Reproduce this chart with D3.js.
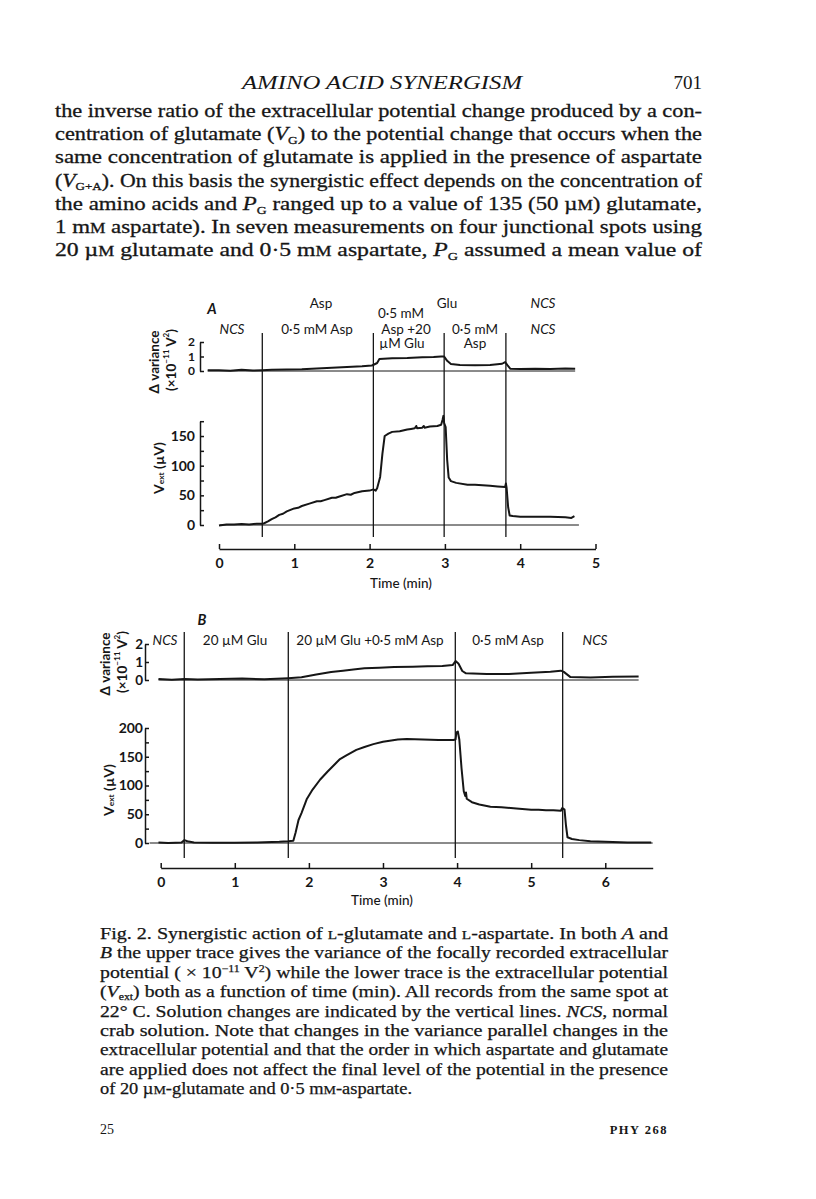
<!DOCTYPE html>
<html lang="en">
<head>
<meta charset="UTF-8">
<title>Amino acid synergism - Fig. 2</title>
<script src="https://cdn.jsdelivr.net/npm/d3@7/dist/d3.min.js"></script>
<style>
  body { margin: 0; background: #fff; }
  svg { display: block; }
</style>
</head>
<body>
<script>
// ---- panel A (time in min, Vext in uV, variance in 1e-11 V^2) ----
var changesA = [0.575, 2.05, 2.99, 3.81];
var vextA = [[0,-1],[0.05,0],[0.1,1],[0.2,1],[0.3,1.5],[0.4,1],[0.5,2],[0.575,2],[0.6,3],[0.65,6],
  [0.7,10],[0.75,13],[0.8,17],[0.85,19],[0.9,23],[1.0,28],[1.05,29],[1.1,32],[1.2,36],[1.3,40],
  [1.35,40],[1.4,42],[1.5,46],[1.55,46],[1.6,48],[1.7,52],[1.75,51],[1.8,54],[1.9,57],[2.0,58],
  [2.05,60],[2.08,58],[2.1,62],[2.14,81],[2.17,120],[2.2,150],[2.25,154],[2.3,157],[2.4,158],
  [2.5,161],[2.55,162],[2.6,163],[2.62,167],[2.63,163],[2.7,164],[2.72,167],[2.73,164],[2.8,166],
  [2.9,167],[2.95,169],[2.97,178],[2.98,184],[2.99,172],[3.01,165],[3.03,110],[3.05,80],[3.08,74],
  [3.15,71],[3.3,68],[3.4,68],[3.5,67],[3.6,66],[3.7,65],[3.8,64],[3.81,70],[3.82,62],[3.84,30],
  [3.86,16],[3.9,15],[4.0,14],[4.2,14],[4.4,14],[4.6,13],[4.68,12],[4.72,15]];
var varA = [[-0.15,0.05],[0,0.05],[0.15,0.02],[0.3,0.08],[0.45,0.03],[0.575,0.05],[0.7,0.08],
  [0.9,0.1],[1.1,0.12],[1.3,0.18],[1.5,0.22],[1.7,0.28],[1.9,0.32],[2.03,0.38],[2.06,0.45],
  [2.1,0.55],[2.13,0.82],[2.3,0.88],[2.5,0.9],[2.7,0.95],[2.85,0.97],[2.95,1.0],[2.99,1.0],
  [3.03,0.7],[3.08,0.48],[3.2,0.42],[3.4,0.4],[3.6,0.42],[3.76,0.5],[3.8,0.62],[3.83,0.4],
  [3.87,0.15],[4.0,0.14],[4.2,0.16],[4.4,0.14],[4.6,0.17],[4.73,0.16]];
var vextTicksA = [0, 25, 50, 75, 100, 125, 150, 175];
var timeTicksA = [0, 1, 2, 3, 4, 5];

// ---- panel B ----
var changesB = [0.318, 1.722, 3.976, 5.425];
var vextB = [[-0.03,1],[0.1,0],[0.2,0.5],[0.28,1],[0.32,5],[0.36,3],[0.45,1],[0.7,0.5],[1.0,0.5],
  [1.3,1],[1.6,2],[1.72,3],[1.79,4],[1.82,18],[1.86,40],[1.9,52],[1.97,76],[2.05,93],[2.15,110],
  [2.25,124],[2.35,137],[2.42,146],[2.5,152],[2.64,162],[2.75,167],[2.87,172],[3.0,176],[3.09,178],
  [3.2,180],[3.32,181],[3.54,180],[3.75,179],[3.95,179],[3.98,180],[3.99,192],[4.01,194],[4.03,180],
  [4.06,130],[4.09,90],[4.11,82],[4.12,88],[4.13,77],[4.2,71],[4.3,67],[4.45,63],[4.6,62],[4.8,60],
  [5.0,58],[5.1,58],[5.2,57],[5.3,57],[5.4,56],[5.42,61],[5.45,58],[5.47,30],[5.49,10],[5.55,7],
  [5.65,5],[5.8,3],[6.0,2],[6.3,1],[6.62,1]];
var varB = [[-0.03,0.05],[0.15,0.02],[0.32,0.06],[0.5,0.03],[0.8,0.05],[1.1,0.08],[1.4,0.04],
  [1.72,0.1],[1.9,0.15],[2.1,0.3],[2.3,0.45],[2.46,0.52],[2.6,0.58],[2.75,0.65],[2.95,0.68],
  [3.15,0.72],[3.4,0.74],[3.6,0.76],[3.8,0.78],[3.94,0.83],[3.98,1.05],[4.02,0.9],[4.07,0.5],
  [4.12,0.37],[4.4,0.34],[4.7,0.33],[5.0,0.4],[5.26,0.46],[5.4,0.52],[5.44,0.45],[5.53,0.16],
  [5.8,0.14],[6.1,0.18],[6.45,0.2]];
var vextTicksB = [0, 25, 50, 75, 100, 125, 150, 175, 200];
var timeTicksB = [0, 1, 2, 3, 4, 5, 6];

var varTicks = [0, 1, 2];
var vextLabelled = [0, 50, 100, 150, 200];

// ---- page text ----
var headerText = "AMINO ACID SYNERGISM";
var pageNumber = "701";
var bodyLines = [
  "the inverse ratio of the extracellular potential change produced by a con-",
  "centration of glutamate (*V*_{G}) to the potential change that occurs when the",
  "same concentration of glutamate is applied in the presence of aspartate",
  "(*V*_{G+A}). On this basis the synergistic effect depends on the concentration of",
  "the amino acids and *P*_{G} ranged up to a value of 135 (50 µ[M]) glutamate,",
  "1 m[M] aspartate). In seven measurements on four junctional spots using",
  "20 µ[M] glutamate and 0·5 m[M] aspartate, *P*_{G} assumed a mean value of"
];
var captionLines = [
  "Fig. 2. Synergistic action of [L]-glutamate and [L]-aspartate. In both *A* and",
  "*B* the upper trace gives the variance of the focally recorded extracellular",
  "potential ( × 10^{−11} V^{2}) while the lower trace is the extracellular potential",
  "(*V*_{ext}) both as a function of time (min). All records from the same spot at",
  "22° C.  Solution changes are indicated by the vertical lines. *NCS*, normal",
  "crab solution. Note that changes in the variance parallel changes in the",
  "extracellular potential and that the order in which aspartate and glutamate",
  "are applied does not affect the final level of the potential in the presence",
  "of 20 µ[M]-glutamate and 0·5 m[M]-aspartate."
];

var ink = "#161616";
var serif = "'Liberation Serif', 'Times New Roman', serif";
var sans = "Lato, 'Open Sans', sans-serif";

var svg = d3.select("body").append("svg").attr("width", 816).attr("height", 1199)
  .style("background", "#fff");

// tiny markup: *italic*, _{sub}, ^{sup}, [small caps]
function rich(text, str, size) {
  var parts = str.split(/(\*|_\{[^}]*\}|\^\{[^}]*\}|\[[^\]]*\])/);
  var italic = false, shift = 0;
  parts.forEach(function (p) {
    if (p === "") return;
    if (p === "*") { italic = !italic; return; }
    var kind = "n", s = p;
    if (p[0] === "_" && p[1] === "{") { kind = "sub"; s = p.slice(2, -1); }
    else if (p[0] === "^" && p[1] === "{") { kind = "sup"; s = p.slice(2, -1); }
    else if (p[0] === "[") { kind = "sc"; s = p.slice(1, -1); }
    var target = kind === "sub" ? size * 0.2 : kind === "sup" ? -size * 0.35 : 0;
    var ts = text.append("tspan").text(s);
    if (target !== shift) { ts.attr("dy", target - shift); shift = target; }
    if (kind !== "n") ts.attr("font-size", size * (kind === "sc" ? 0.76 : 0.6));
    if (italic) ts.attr("font-style", "italic");
  });
}

// header
svg.append("text").attr("x", 242).attr("y", 89).attr("font-family", serif)
  .attr("font-size", 19).attr("font-style", "italic").attr("fill", ink)
  .attr("textLength", 280).attr("lengthAdjust", "spacingAndGlyphs").text(headerText);
svg.append("text").attr("x", 702).attr("y", 89).attr("text-anchor", "end")
  .attr("font-family", serif).attr("font-size", 19).attr("fill", ink).text(pageNumber);

// body paragraph (justified)
bodyLines.forEach(function (line, i) {
  var t = svg.append("text").attr("x", 55).attr("y", 117 + i * 23.2)
    .attr("font-family", serif).attr("font-size", 19).attr("fill", ink)
    .attr("stroke", ink).attr("stroke-width", 0.3)
    .attr("textLength", 647).attr("lengthAdjust", "spacingAndGlyphs");
  rich(t, line, 19);
});

// caption
captionLines.forEach(function (line, i) {
  var t = svg.append("text").attr("x", 100).attr("y", 939 + i * 19.4)
    .attr("font-family", serif).attr("font-size", 16).attr("fill", ink)
    .attr("stroke", ink).attr("stroke-width", 0.25);
  if (i < captionLines.length - 1) t.attr("textLength", 568).attr("lengthAdjust", "spacingAndGlyphs");
  else t.attr("textLength", 312).attr("lengthAdjust", "spacingAndGlyphs");
  rich(t, line, 16);
});

svg.append("text").attr("x", 100).attr("y", 1134).attr("font-family", serif)
  .attr("font-size", 14).attr("fill", ink).text("25");
svg.append("text").attr("x", 668).attr("y", 1134).attr("text-anchor", "end")
  .attr("font-family", serif).attr("font-size", 12.5).attr("font-weight", "bold")
  .attr("letter-spacing", 1.5).attr("fill", ink).text("PHY 268");

// ---- chart panels ----
function label(g, x, y, str, opts) {
  opts = opts || {};
  return g.append("text").attr("x", x).attr("y", y)
    .attr("text-anchor", opts.anchor || "middle").attr("dominant-baseline", "central")
    .attr("font-family", sans).attr("font-size", opts.size || 13.5)
    .attr("font-weight", opts.weight || "normal").attr("font-style", opts.style || "normal")
    .attr("fill", ink).text(str);
}

function styleAxis(g, size) {
  g.select(".domain").attr("stroke", ink).attr("stroke-width", 1.5);
  g.selectAll(".tick line").attr("stroke", ink).attr("stroke-width", 1.5);
  g.selectAll(".tick text").attr("fill", ink).attr("font-family", sans)
    .attr("font-size", size).attr("font-weight", "bold");
}

function drawPanel(p) {
  var g = svg.append("g");
  var line = d3.line().x(function (d) { return p.x(d[0]); });

  // solution change markers
  g.selectAll(".sol").data(p.changes).enter().append("line")
    .attr("x1", function (d) { return p.x(d); }).attr("x2", function (d) { return p.x(d); })
    .attr("y1", p.yVar(2) - p.solTopPad).attr("y2", p.yVext(0) + p.solBottomPad)
    .attr("stroke", ink).attr("stroke-width", 1.3);

  // zero reference lines
  g.append("line").attr("x1", p.x(p.varSpan[0])).attr("x2", p.x(p.varSpan[1]))
    .attr("y1", p.yVar(0)).attr("y2", p.yVar(0)).attr("stroke", ink).attr("stroke-width", 1);
  g.append("line").attr("x1", p.x(p.vextSpan[0])).attr("x2", p.x(p.vextSpan[1]))
    .attr("y1", p.yVext(0)).attr("y2", p.yVext(0)).attr("stroke", ink).attr("stroke-width", 1);

  // traces
  g.append("path").datum(p.varData)
    .attr("d", line.y(function (d) { return p.yVar(d[1]); }))
    .attr("fill", "none").attr("stroke", ink).attr("stroke-width", 2).attr("stroke-linejoin", "round");
  g.append("path").datum(p.vextData)
    .attr("d", line.y(function (d) { return p.yVext(d[1]); }))
    .attr("fill", "none").attr("stroke", ink).attr("stroke-width", 2).attr("stroke-linejoin", "round");

  // axes
  var av = g.append("g").attr("transform", "translate(" + p.axisX + ",0)")
    .call(d3.axisLeft(p.yVar).tickValues(varTicks).tickSize(-4).tickSizeOuter(0)
      .tickPadding(p.labelPad).tickFormat(d3.format("d")));
  styleAxis(av, p.varTickSize);
  var ae = g.append("g").attr("transform", "translate(" + p.axisX + ",0)")
    .call(d3.axisLeft(p.yVext).tickValues(p.vextTicks).tickSize(-4).tickSizeOuter(0)
      .tickPadding(p.labelPad)
      .tickFormat(function (d) { return vextLabelled.indexOf(d) >= 0 ? d : ""; }));
  styleAxis(ae, 14);
  var at = g.append("g").attr("transform", "translate(0," + p.timeY + ")")
    .call(d3.axisBottom(p.x).tickValues(p.timeTicks).tickSize(-5).tickSizeOuter(0)
      .tickPadding(9).tickFormat(d3.format("d")));
  styleAxis(at, 14);

  // axis titles
  label(g, p.timeTitle[0], p.timeTitle[1], "Time (min)", { size: 13.5, weight: 500 });
  label(g, p.varTitle[0], p.varTitle[1], "Δ variance", { size: 13.5, weight: "bold" })
    .attr("transform", "rotate(-90," + p.varTitle[0] + "," + p.varTitle[1] + ")");
  var u = label(g, p.varTitle[0] + 17, p.varTitle[1] - 2, "", { size: 13.5, weight: "bold" })
    .attr("transform", "rotate(-90," + (p.varTitle[0] + 17) + "," + (p.varTitle[1] - 2) + ")");
  rich(u, "(×10^{−11} V^{2})", 13.5);
  var v = label(g, p.vextTitle[0], p.vextTitle[1], "", { size: 14, weight: "bold" })
    .attr("transform", "rotate(-90," + p.vextTitle[0] + "," + p.vextTitle[1] + ")");
  rich(v, "V_{ext} (µV)", 14);

  p.notes.forEach(function (n) {
    label(g, n[0], n[1], n[2], { style: n[3] ? "italic" : "normal", weight: n[4] || "normal",
      size: n[4] ? 14.5 : 13.5 });
  });
}

drawPanel({
  x: d3.scaleLinear().domain([0, 5]).range([219, 595.5]),
  yVar: d3.scaleLinear().domain([0, 2]).range([371, 342]),
  yVext: d3.scaleLinear().domain([0, 175]).range([525, 421.2]),
  changes: changesA, varData: varA, vextData: vextA,
  vextTicks: vextTicksA, timeTicks: timeTicksA,
  varSpan: [-0.15, 4.73], vextSpan: [0.01, 4.78],
  axisX: 200, labelPad: 5, varTickSize: 12, timeY: 549, solTopPad: 9, solBottomPad: 12,
  timeTitle: [401, 583], varTitle: [154, 362], vextTitle: [158, 468],
  notes: [
    [212, 308, "A", true, "bold"],
    [321, 303, "Asp"], [447, 303, "Glu"], [543, 303, "NCS", true], [401, 313, "0·5 mM"],
    [232, 329, "NCS", true], [317, 329, "0·5 mM  Asp"], [406, 329, "Asp +20"],
    [475, 329, "0·5 mM"], [543, 329, "NCS", true],
    [402, 343, "µM  Glu"], [475, 343, "Asp"]
  ]
});

drawPanel({
  x: d3.scaleLinear().domain([0, 6.64]).range([160.7, 652.7]),
  yVar: d3.scaleLinear().domain([0, 2]).range([680, 644]),
  yVext: d3.scaleLinear().domain([0, 200]).range([843, 728]),
  changes: changesB, varData: varB, vextData: vextB,
  vextTicks: vextTicksB, timeTicks: timeTicksB,
  varSpan: [-0.03, 6.45], vextSpan: [-0.15, 6.64],
  axisX: 145, labelPad: 2, varTickSize: 13.5, timeY: 868, solTopPad: 12, solBottomPad: 15,
  timeTitle: [382, 900], varTitle: [105, 664], vextTitle: [108, 790],
  notes: [
    [202, 619, "B", true, "bold"],
    [165, 640, "NCS", true], [235, 640, "20 µM  Glu"], [370, 640, "20 µM  Glu +0·5 mM  Asp"],
    [508, 640, "0·5 mM  Asp"], [595, 640, "NCS", true]
  ]
});
</script>
</body>
</html>
